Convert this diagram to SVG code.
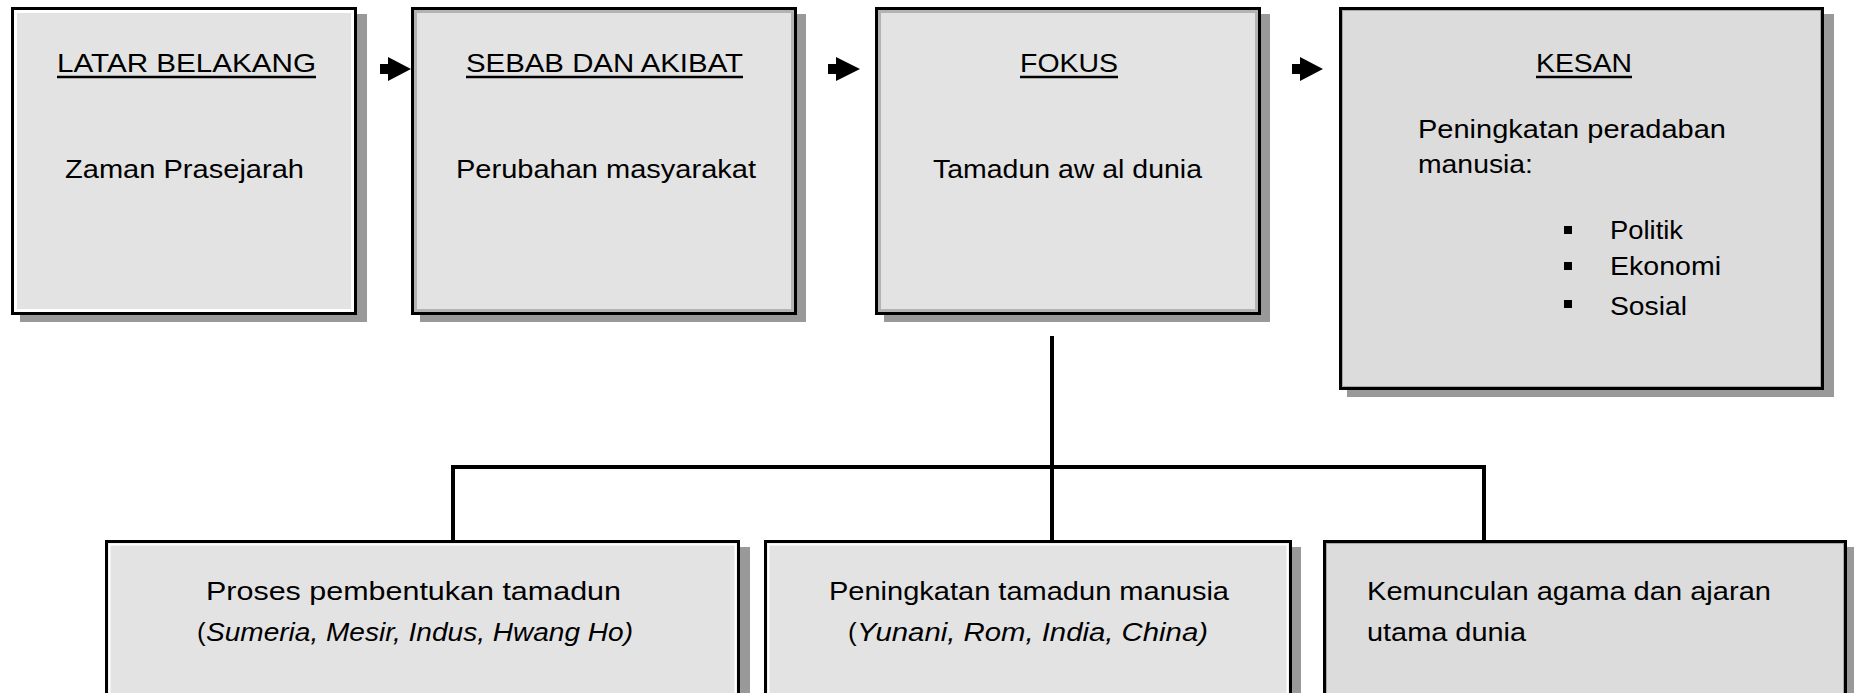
<svg xmlns="http://www.w3.org/2000/svg" width="1854" height="693" viewBox="0 0 1854 693">
<style>
.sh{fill:#999999}
.bx{stroke:#000;stroke-width:3}
.f1{fill:#e3e3e3}
.f2{fill:#dcdcdc}
.t{font-family:"Liberation Sans",Arial,sans-serif;font-size:26px;fill:#000}
.i{font-style:italic}
.ul{stroke:#000;stroke-width:2.5}
.cn{stroke:#000;stroke-width:4;fill:none}
</style>
<rect width="1854" height="693" fill="#fff"/>
<g id="connectors">
<path d="M380 64H388V57L411 69L388 81V74H380Z" fill="#000"/>
<path d="M828 64H836V57L860 69L836 81V74H828Z" fill="#000"/>
<path d="M1292 64H1300V57L1323 69L1300 81V74H1292Z" fill="#000"/>
<path class="cn" d="M1052 336V540M451 467H1486M453 465V540M1484 465V540"/>
</g>
<g id="latar">
<rect class="sh" x="20" y="14" width="347" height="308"/>
<rect class="bx f1" x="12.5" y="8.5" width="343" height="305"/>
<rect x="15.5" y="11.5" width="337" height="299" fill="none" stroke="#fff" stroke-width="3"/>
<text class="t" x="57" y="72" textLength="259" lengthAdjust="spacingAndGlyphs">LATAR BELAKANG</text>
<line class="ul" x1="57" y1="77" x2="316" y2="77"/>
<text class="t" x="65" y="178" textLength="239" lengthAdjust="spacingAndGlyphs">Zaman Prasejarah</text>
</g>
<g id="sebab">
<rect class="sh" x="420" y="14" width="386" height="308"/>
<rect class="bx f1" x="412.5" y="8.5" width="383" height="305"/>
<rect x="415.5" y="11.5" width="377" height="299" fill="none" stroke="#b3b3b3" stroke-width="3"/>
<text class="t" x="466" y="72" textLength="277" lengthAdjust="spacingAndGlyphs">SEBAB DAN AKIBAT</text>
<line class="ul" x1="466" y1="77" x2="743" y2="77"/>
<text class="t" x="456" y="178" textLength="300" lengthAdjust="spacingAndGlyphs">Perubahan masyarakat</text>
</g>
<g id="fokus">
<rect class="sh" x="884" y="14" width="386" height="308"/>
<rect class="bx f1" x="876.5" y="8.5" width="383" height="305"/>
<rect x="879.5" y="11.5" width="377" height="299" fill="none" stroke="#b3b3b3" stroke-width="3"/>
<text class="t" x="1020" y="72" textLength="98" lengthAdjust="spacingAndGlyphs">FOKUS</text>
<line class="ul" x1="1020" y1="77" x2="1118" y2="77"/>
<text class="t" x="933" y="178" textLength="269" lengthAdjust="spacingAndGlyphs">Tamadun aw al dunia</text>
</g>
<g id="kesan">
<rect class="sh" x="1347" y="14" width="487" height="383"/>
<rect class="bx f2" x="1340.5" y="8.5" width="482" height="380"/>
<rect x="1342.5" y="10.5" width="478" height="376" fill="none" stroke="#a8a8a8" stroke-width="1"/>
<text class="t" x="1536" y="72" textLength="96" lengthAdjust="spacingAndGlyphs">KESAN</text>
<line class="ul" x1="1536" y1="77" x2="1632" y2="77"/>
<text class="t" x="1418" y="138" textLength="308" lengthAdjust="spacingAndGlyphs">Peningkatan peradaban</text>
<text class="t" x="1418" y="173" textLength="115" lengthAdjust="spacingAndGlyphs">manusia:</text>
<rect x="1564" y="226" width="8" height="8"/>
<rect x="1564" y="262" width="8" height="8"/>
<rect x="1564" y="300" width="8" height="8"/>
<text class="t" x="1610" y="239" textLength="73" lengthAdjust="spacingAndGlyphs">Politik</text>
<text class="t" x="1610" y="275" textLength="111" lengthAdjust="spacingAndGlyphs">Ekonomi</text>
<text class="t" x="1610" y="315" textLength="77" lengthAdjust="spacingAndGlyphs">Sosial</text>
</g>
<g id="proses">
<rect class="sh" x="114" y="547" width="636" height="160"/>
<rect class="bx f1" x="106.5" y="541.5" width="632" height="160"/>
<rect x="109.5" y="544.5" width="626" height="160" fill="none" stroke="#fff" stroke-width="2"/>
<text class="t" x="206" y="600" textLength="415" lengthAdjust="spacingAndGlyphs">Proses pembentukan tamadun</text>
<text class="t" x="197" y="641">(</text>
<text class="t i" x="206" y="641" textLength="427" lengthAdjust="spacingAndGlyphs">Sumeria, Mesir, Indus, Hwang Ho)</text>
</g>
<g id="peningkatan">
<rect class="sh" x="773" y="547" width="528" height="160"/>
<rect class="bx f1" x="765.5" y="541.5" width="525" height="160"/>
<rect x="768.5" y="544.5" width="519" height="160" fill="none" stroke="#fff" stroke-width="2"/>
<text class="t" x="829" y="600" textLength="400" lengthAdjust="spacingAndGlyphs">Peningkatan tamadun manusia</text>
<text class="t" x="848" y="641">(</text>
<text class="t i" x="857" y="641" textLength="351" lengthAdjust="spacingAndGlyphs">Yunani, Rom, India, China)</text>
</g>
<g id="kemunculan">
<rect class="sh" x="1332" y="547" width="522" height="160"/>
<rect class="bx f2" x="1324.5" y="541.5" width="521" height="160"/>
<rect x="1326.5" y="543.5" width="517" height="160" fill="none" stroke="#a8a8a8" stroke-width="1"/>
<text class="t" x="1367" y="600" textLength="404" lengthAdjust="spacingAndGlyphs">Kemunculan agama dan ajaran</text>
<text class="t" x="1367" y="641" textLength="159" lengthAdjust="spacingAndGlyphs">utama dunia</text>
</g>
</svg>
